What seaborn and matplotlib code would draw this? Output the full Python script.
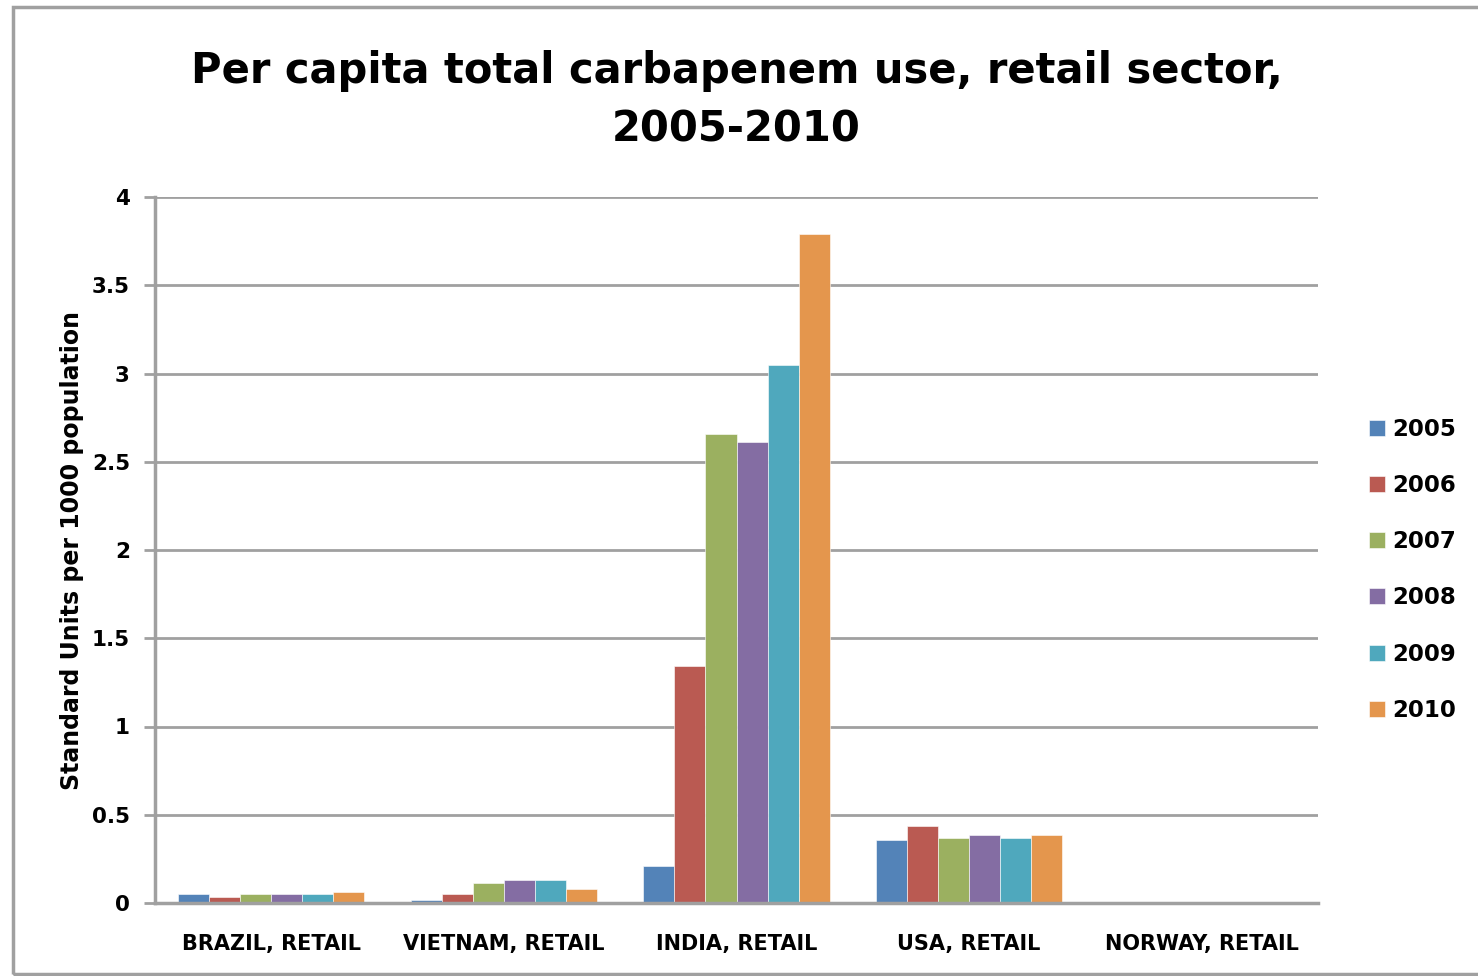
import matplotlib
matplotlib.use("Agg")
import matplotlib.pyplot as plt
import seaborn as sns
import pandas as pd
from matplotlib.patches import Rectangle

# Per capita carbapenem use (standard units per 1000 population), retail sector
categories = ["BRAZIL, RETAIL", "VIETNAM, RETAIL", "INDIA, RETAIL", "USA, RETAIL", "NORWAY, RETAIL"]
years = ["2005", "2006", "2007", "2008", "2009", "2010"]
use_2005 = [0.05, 0.017, 0.21, 0.357, 0.0]
use_2006 = [0.035, 0.05, 1.34, 0.436, 0.0]
use_2007 = [0.05, 0.115, 2.66, 0.37, 0.0]
use_2008 = [0.05, 0.13, 2.61, 0.387, 0.0]
use_2009 = [0.05, 0.13, 3.05, 0.37, 0.0]
use_2010 = [0.065, 0.08, 3.79, 0.387, 0.0]
series = [use_2005, use_2006, use_2007, use_2008, use_2009, use_2010]
y_ticks = [0, 0.5, 1, 1.5, 2, 2.5, 3, 3.5, 4]
y_tick_labels = ["0", "0.5", "1", "1.5", "2", "2.5", "3", "3.5", "4"]

colors = ["#5383B8", "#BA5A52", "#9BB060", "#846DA3", "#4FA8BD", "#E4964D"]

rows = []
for year, vals in zip(years, series):
    for cat, v in zip(categories, vals):
        rows.append({"category": cat, "year": year, "value": v})
df = pd.DataFrame(rows)

sns.set_theme(style="white")
plt.rcParams["font.family"] = ["DejaVu Sans"]
plt.rcParams["font.weight"] = "bold"
plt.rcParams["text.color"] = "black"
plt.rcParams["axes.labelcolor"] = "black"
plt.rcParams["xtick.color"] = "black"
plt.rcParams["ytick.color"] = "black"

fig = plt.figure(figsize=(14.78, 9.76), dpi=100)
W, H = 1478, 976
ax = fig.add_axes([155 / W, 1 - 903 / H, (1318 - 155) / W, (903 - 197) / H])

sns.barplot(data=df, x="category", y="value", hue="year", order=categories,
            hue_order=years, palette=colors, width=0.8, saturation=1,
            edgecolor="white", linewidth=0.4, ax=ax, legend=True)

ax.set_ylim(0, 4)
ax.set_xlim(-0.5, len(categories) - 0.5)
ax.set_yticks(y_ticks)
ax.set_yticklabels(y_tick_labels, fontsize=15.5, fontweight="bold")
ax.tick_params(axis="x", labelsize=15, length=0, pad=22, labelcolor="black")
for lbl in ax.get_xticklabels():
    lbl.set_fontweight("bold")
ax.tick_params(axis="y", left=True, length=8, width=2, color="#A0A0A0",
               pad=10, labelcolor="black")
ax.set_xlabel("")
ax.set_ylabel("Standard Units per 1000 population", fontsize=17,
              fontweight="bold", labelpad=6, color="black")

ax.yaxis.grid(True, color="#A0A0A0", linewidth=2)
ax.set_axisbelow(True)
for side in ["top", "right"]:
    ax.spines[side].set_visible(False)
for side in ["left", "bottom"]:
    ax.spines[side].set_color("#A0A0A0")
    ax.spines[side].set_linewidth(2.5)

ax.set_title("Per capita total carbapenem use, retail sector,\n2005-2010",
             fontsize=30, fontweight="bold", pad=40, linespacing=1.5,
             color="black")

leg = ax.legend(loc="center left", bbox_to_anchor=(1.044, 0.472), frameon=False,
                fontsize=16.5, handlelength=0.7, handleheight=0.7,
                handletextpad=0.3, labelspacing=1.45, borderpad=0,
                borderaxespad=0)
for t in leg.get_texts():
    t.set_fontweight("bold")
    t.set_color("black")

# outer chart border
fig.patches.append(Rectangle((13 / W, 1 - 974 / H), 1.2, (974 - 7) / H,
                             transform=fig.transFigure, fill=False,
                             edgecolor="#A0A0A0", linewidth=2.5))

fig.savefig("out.png", dpi=100)
